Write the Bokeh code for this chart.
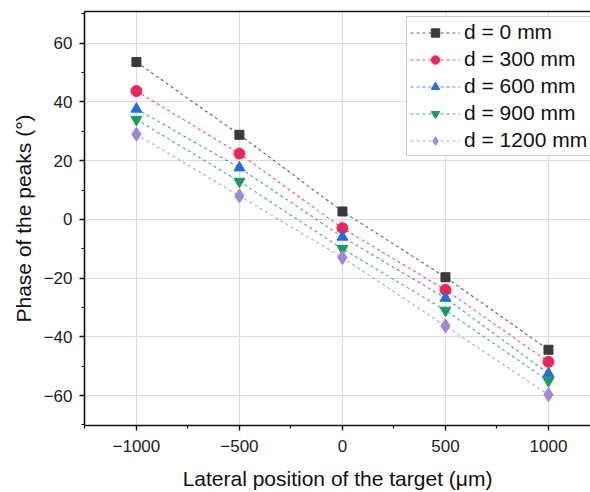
from bokeh.plotting import figure
from bokeh.models import SingleIntervalTicker, LinearAxis, FixedTicker, CustomJSTickFormatter, Range1d
from bokeh.embed import file_html
from bokeh.resources import INLINE

positions = [-1000, -500, 0, 500, 1000]
labels = ["d = 0 mm", "d = 300 mm", "d = 600 mm", "d = 900 mm", "d = 1200 mm"]
phase_0 = [53.6, 28.8, 2.7, -19.7, -44.4]
phase_300 = [43.7, 22.4, -3.0, -24.0, -48.5]
phase_600 = [37.6, 17.6, -6.0, -26.8, -52.5]
phase_900 = [34.0, 12.9, -10.0, -31.0, -55.0]
phase_1200 = [29.0, 8.0, -13.0, -36.3, -59.7]
series = [phase_0, phase_300, phase_600, phase_900, phase_1200]

colors = ["#3a3a3a", "#f0245a", "#1d6fe0", "#179e5b", "#a585d6"]
markers = ["square", "circle", "triangle", "inverted_triangle", "diamond"]
sizes = [9, 11, 11, 11, 14]

FONT = "Liberation Sans"

p = figure(width=590, height=492, output_backend="svg", toolbar_location=None,
           x_range=Range1d(-1252, 1204), y_range=Range1d(-70.2, 70.8),
           min_border_left=84, min_border_right=0, min_border_top=11, min_border_bottom=65)
p.outline_line_color = None

fmt = CustomJSTickFormatter(code="return tick < 0 ? '\u2212' + Math.abs(tick) : '' + tick;")

for ax, interval in ((p.xaxis[0], 500), (p.yaxis[0], 20)):
    ax.ticker = SingleIntervalTicker(interval=interval, num_minor_ticks=2)
    ax.formatter = fmt
    ax.axis_line_color = "#111111"
    ax.axis_line_width = 1.6
    ax.major_tick_line_color = "#111111"
    ax.minor_tick_line_color = "#111111"
    ax.major_tick_line_width = 1.3
    ax.minor_tick_line_width = 1.2
    ax.major_tick_out = 5
    ax.major_tick_in = 0
    ax.minor_tick_out = 3
    ax.minor_tick_in = 0
    ax.major_label_text_font = FONT
    ax.major_label_text_font_size = "17px"
    ax.major_label_text_color = "#222222"
    ax.axis_label_text_font = FONT
    ax.axis_label_text_font_size = "21px"
    ax.axis_label_text_font_style = "normal"
    ax.axis_label_text_color = "#111111"

p.xaxis.axis_label = "Lateral position of the target (\u03bcm)"
p.yaxis.axis_label = "Phase of the peaks (\u00b0)"
p.xaxis.major_label_standoff = 9
p.yaxis.major_label_standoff = 7
p.xaxis.axis_label_standoff = 12
p.yaxis.axis_label_standoff = 6

top = LinearAxis(ticker=FixedTicker(ticks=[]), axis_line_color="#111111", axis_line_width=1.6,
                 major_label_text_font_size="0px", major_tick_out=0, minor_tick_out=0)
p.add_layout(top, "above")

p.grid.grid_line_color = "#dcdcdc"
p.grid.grid_line_width = 1.2
p.xgrid.ticker = SingleIntervalTicker(interval=500)
p.ygrid.ticker = SingleIntervalTicker(interval=20)

for vals, lab, c, m, s in zip(series, labels, colors, markers, sizes):
    p.line(positions, vals, line_color=c, line_dash="3 3", line_width=1.1, line_alpha=0.8, legend_label=lab)
    p.scatter(positions, vals, marker=m, size=s, fill_color=c, line_color=c, legend_label=lab)

lg = p.legend[0]
lg.location = (322, 269)
lg.label_text_font = FONT
lg.label_text_font_size = "21px"
lg.label_text_color = "#111111"
lg.glyph_width = 50
lg.glyph_height = 21
lg.label_height = 21
lg.spacing = 3
lg.padding = 3
lg.margin = 0
lg.label_standoff = 4
lg.border_line_color = "#999999"
lg.border_line_width = 1
lg.background_fill_color = "white"
lg.background_fill_alpha = 1.0

open("out.html", "w").write(file_html(p, INLINE))
